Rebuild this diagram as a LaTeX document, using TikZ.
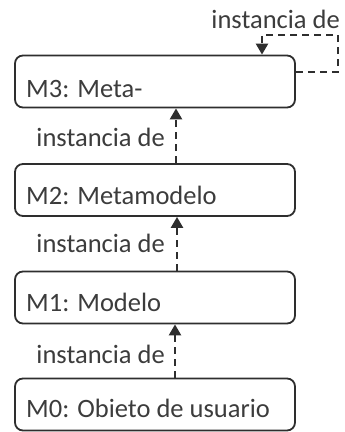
\documentclass[tikz,border=0pt]{standalone}
\usepackage{fontspec}
\setmainfont{Carlito}
\usetikzlibrary{arrows.meta,calc}
\definecolor{ink}{HTML}{2E2E2E}
\definecolor{txt}{HTML}{3C3C3C}
\tikzset{
  box/.style={draw=ink, line width=1.8pt, rounded corners=8pt, minimum width=280pt, minimum height=52pt, inner sep=0pt},
  boxtext/.style={anchor=west, text=txt, font=\fontsize{26.5}{30}\selectfont, inner sep=0pt},
  lbl/.style={text=txt, font=\fontsize{26.5}{30}\selectfont, inner sep=0pt},
  inst/.style={draw=ink, line width=2.4pt, dash pattern=on 7pt off 5pt, -{Triangle[width=12pt,length=11pt]}}
}
\begin{document}
\begin{tikzpicture}[x=1pt,y=-1pt]
\useasboundingbox (0,0) rectangle (345,432);
\node[box] (m3) at (155,81.5) {};
\node[box] (m2) at (155,190) {};
\node[box] (m1) at (155,297.5) {};
\node[box] (m0) at (155,404.5) {};
\node[boxtext] (t3) at (26,89) {M3: Meta-};
\node[boxtext] (t2) at (26,195) {M2: Metamodelo};
\node[boxtext] (t1) at (26,302) {M1: Modelo};
\node[boxtext] (t0) at (26,408) {M0: Obieto de usuario};
\draw[inst] ($(m2.north)+(21,0)$) -- ($(m3.south)+(21,0)$);
\draw[inst] ($(m1.north)+(22,0)$) -- ($(m2.south)+(22,0)$);
\draw[inst] ($(m0.north)+(20,0)$) -- ($(m1.south)+(20,0)$);
\node[lbl, anchor=east] (l3) at (165,137) {instancia de};
\node[lbl, anchor=east] (l2) at (165,243) {instancia de};
\node[lbl, anchor=east] (l1) at (165,354) {instancia de};
\coordinate (c1) at (338,72);
\coordinate (c2) at (338,35);
\coordinate (c3) at (262,35);
\draw[inst] (m3.east |- c1) -- (c1) -- (c2) -- (c3) -- (m3.north -| c3);
\node[lbl, anchor=east] (ls) at (340,19) {instancia de};
\end{tikzpicture}
\end{document}
